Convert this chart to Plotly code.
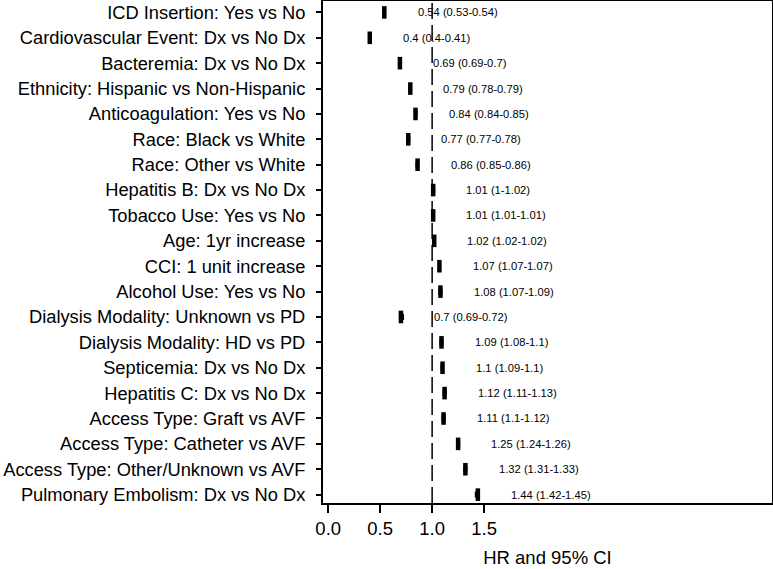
import plotly.graph_objects as go

labels = [
    "ICD Insertion: Yes vs No",
    "Cardiovascular Event: Dx vs No Dx",
    "Bacteremia: Dx vs No Dx",
    "Ethnicity: Hispanic vs Non-Hispanic",
    "Anticoagulation: Yes vs No",
    "Race: Black vs White",
    "Race: Other vs White",
    "Hepatitis B: Dx vs No Dx",
    "Tobacco Use: Yes vs No",
    "Age: 1yr increase",
    "CCI: 1 unit increase",
    "Alcohol Use: Yes vs No",
    "Dialysis Modality: Unknown vs PD",
    "Dialysis Modality: HD vs PD",
    "Septicemia: Dx vs No Dx",
    "Hepatitis C: Dx vs No Dx",
    "Access Type: Graft vs AVF",
    "Access Type: Catheter vs AVF",
    "Access Type: Other/Unknown vs AVF",
    "Pulmonary Embolism: Dx vs No Dx",
]
hr = [0.54, 0.4, 0.69, 0.79, 0.84, 0.77, 0.86, 1.01, 1.01, 1.02,
      1.07, 1.08, 0.7, 1.09, 1.1, 1.12, 1.11, 1.25, 1.32, 1.44]
lo = [0.53, 0.4, 0.69, 0.78, 0.84, 0.77, 0.85, 1.0, 1.01, 1.02,
      1.07, 1.07, 0.69, 1.08, 1.09, 1.11, 1.1, 1.24, 1.31, 1.42]
hi = [0.54, 0.41, 0.7, 0.79, 0.85, 0.78, 0.86, 1.02, 1.01, 1.02,
      1.07, 1.09, 0.72, 1.1, 1.1, 1.13, 1.12, 1.26, 1.33, 1.45]
hr_txt = ["0.54", "0.4", "0.69", "0.79", "0.84", "0.77", "0.86", "1.01", "1.01", "1.02",
          "1.07", "1.08", "0.7", "1.09", "1.1", "1.12", "1.11", "1.25", "1.32", "1.44"]
lo_txt = ["0.53", "0.4", "0.69", "0.78", "0.84", "0.77", "0.85", "1", "1.01", "1.02",
          "1.07", "1.07", "0.69", "1.08", "1.09", "1.11", "1.1", "1.24", "1.31", "1.42"]
hi_txt = ["0.54", "0.41", "0.7", "0.79", "0.85", "0.78", "0.86", "1.02", "1.01", "1.02",
          "1.07", "1.09", "0.72", "1.1", "1.1", "1.13", "1.12", "1.26", "1.33", "1.45"]
x_ticks = [0.0, 0.5, 1.0, 1.5]
x_tick_text = ["0.0", "0.5", "1.0", "1.5"]

ypos = list(range(len(labels)))
FONT = "Liberation Sans, Arial, sans-serif"

fig = go.Figure()

fig.add_trace(go.Scatter(
    x=hr, y=ypos, mode="markers",
    marker=dict(symbol="line-ns", size=9, color="black",
                line=dict(width=4.5, color="black")),
    error_x=dict(type="data", symmetric=False,
                 array=[h - m for h, m in zip(hi, hr)],
                 arrayminus=[m - l for m, l in zip(hr, lo)],
                 color="black", thickness=2, width=3),
    showlegend=False, hoverinfo="x+y",
))

for i in range(len(labels)):
    fig.add_annotation(
        x=hr[i] + 0.3, y=ypos[i], xref="x", yref="y",
        text=f"{hr_txt[i]} ({lo_txt[i]}-{hi_txt[i]})",
        showarrow=False, xanchor="left", yanchor="middle",
        font=dict(size=11.2, color="black", family=FONT),
    )

fig.add_shape(type="line", xref="x", yref="paper", x0=1, x1=1, y0=0, y1=1,
              line=dict(color="black", width=1.5, dash="16px,6px"))

fig.update_layout(
    width=773, height=569,
    margin=dict(l=323, r=1, t=1, b=66, autoexpand=False),
    plot_bgcolor="white", paper_bgcolor="white",
    font=dict(family=FONT, color="black", size=18),
    xaxis=dict(
        range=[-0.05, 4.27], tickvals=x_ticks, ticktext=x_tick_text,
        showgrid=False, zeroline=False,
        showline=True, linecolor="black", linewidth=2, mirror=True,
        ticks="outside", ticklen=8, tickwidth=2, tickcolor="black",
        tickfont=dict(size=18.5),
        title=dict(text="HR and 95% CI", font=dict(size=18.5), standoff=13),
    ),
    yaxis=dict(
        range=[19.33, -0.45], tickvals=ypos, ticktext=labels,
        showgrid=False, zeroline=False,
        showline=True, linecolor="black", linewidth=2, mirror=True,
        ticks="outside", ticklen=5, tickwidth=1.5, tickcolor="black",
        tickfont=dict(size=18.3), ticklabelstandoff=7,
    ),
)

fig.write_html("out.html", config={"displayModeBar": False},
               post_script="document.body.style.margin='0';")
